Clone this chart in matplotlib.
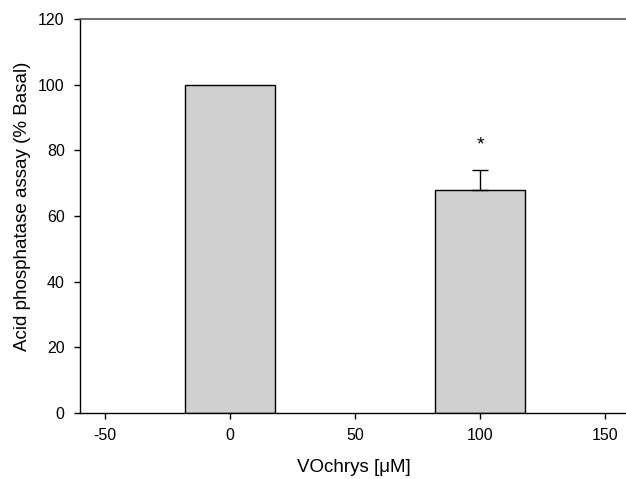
import matplotlib.pyplot as plt

plt.rcParams['font.family'] = ['Liberation Sans', 'DejaVu Sans']
plt.rcParams['axes.unicode_minus'] = False

doses = [0, 100]
values = [100, 68]
errors = [0, 6]
xticks = [-50, 0, 50, 100, 150]
yticks = [0, 20, 40, 60, 80, 100, 120]

fig = plt.figure(figsize=(6.26, 4.79), dpi=100)
ax = fig.add_axes([0.1278, 0.1378, 0.8722, 0.8225])

ax.bar(doses, values, width=36, color='#d0d0d0', edgecolor='black', linewidth=1.0, zorder=2)
ax.errorbar(doses[1], values[1], yerr=[[0], [errors[1]]], fmt='none', ecolor='black',
            elinewidth=1.0, capsize=6, capthick=1.0, zorder=3)
ax.text(doses[1], values[1] + errors[1] + 5, '*', ha='center', va='bottom', fontsize=14)

ax.set_xlim(-60, 158.4)
ax.set_ylim(0, 120)
ax.set_xticks(xticks)
ax.set_yticks(yticks)
ax.tick_params(direction='out', length=4, width=1, labelsize=11.5, pad=7)

ax.spines['right'].set_visible(False)
ax.spines['top'].set_color('#555555')
ax.spines['top'].set_linewidth(1.2)
for s in ['left', 'bottom']:
    ax.spines[s].set_linewidth(1.0)

ax.set_xlabel('VOchrys [\u03bcM]', fontsize=13.5)
ax.set_ylabel('Acid phosphatase assay (% Basal)', fontsize=13.5)
ax.xaxis.set_label_coords(0.502, -0.118)
ax.yaxis.set_label_coords(-0.09, 0.525)

fig.savefig('out.png', dpi=100)
